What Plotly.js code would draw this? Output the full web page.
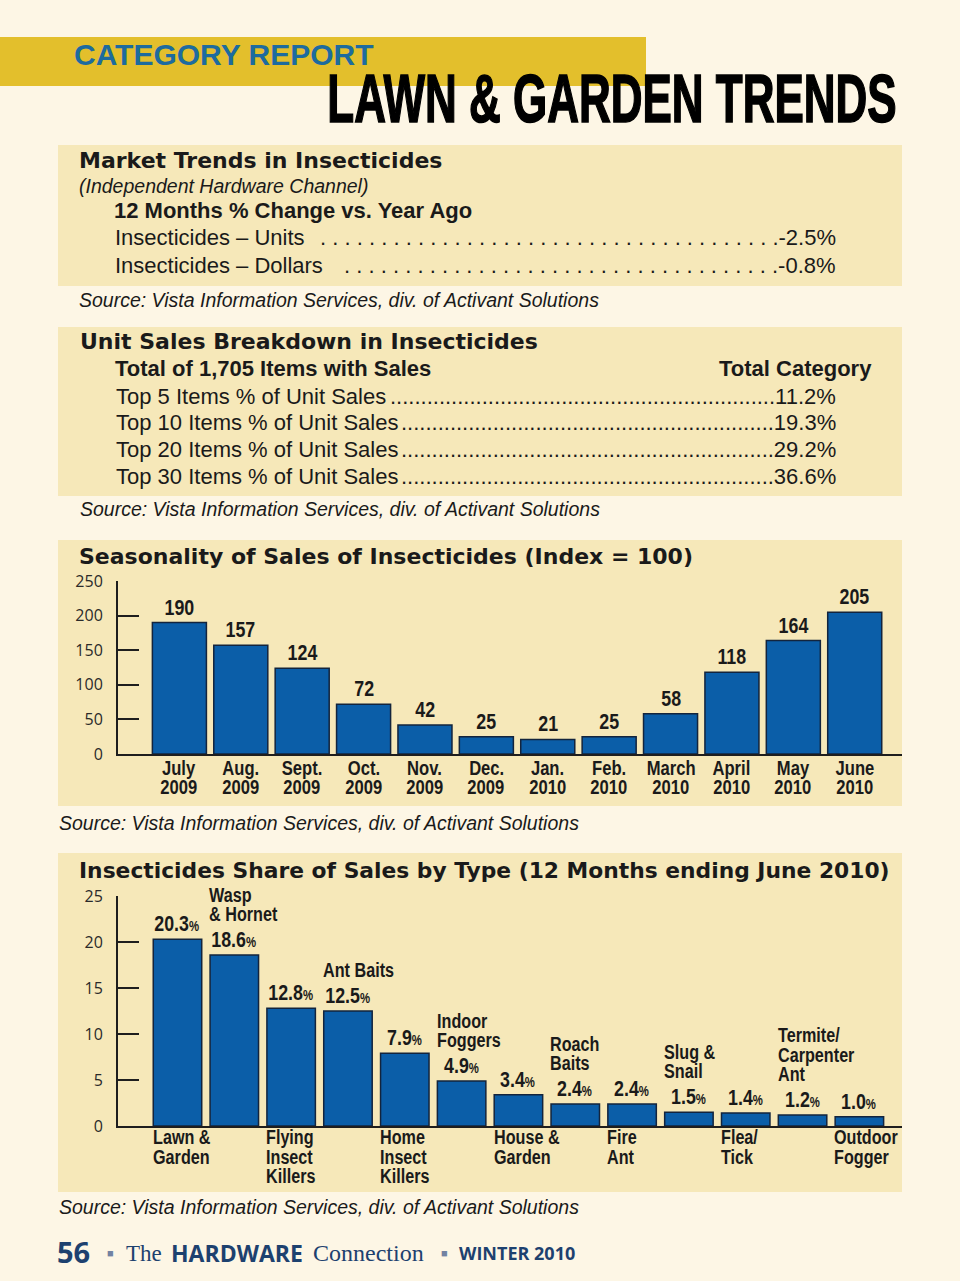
<!DOCTYPE html>
<html><head><meta charset="utf-8">
<script src="https://cdn.plot.ly/plotly-3.0.1.min.js"></script>
<style>
html,body{margin:0;padding:0;background:#fdf6e5;}
#chart{width:960px;height:1281px;}
</style></head><body><div id="chart"></div>
<script>
// ---------- DATA ----------
const seasonMonths = ['July','Aug.','Sept.','Oct.','Nov.','Dec.','Jan.','Feb.','March','April','May','June'];
const seasonYears  = ['2009','2009','2009','2009','2009','2009','2010','2010','2010','2010','2010','2010'];
const seasonIndex  = [190,157,124,72,42,25,21,25,58,118,164,205];
const seasonTicks  = [0,50,100,150,200,250];

const shareTypes = ['Lawn & Garden','Wasp & Hornet','Flying Insect Killers','Ant Baits','Home Insect Killers','Indoor Foggers','House & Garden','Roach Baits','Fire Ant','Slug & Snail','Flea/Tick','Termite/Carpenter Ant','Outdoor Fogger'];
const shareLabelLines = [['Lawn &','Garden'],['Wasp','& Hornet'],['Flying','Insect','Killers'],['Ant Baits'],['Home','Insect','Killers'],['Indoor','Foggers'],['House &','Garden'],['Roach','Baits'],['Fire','Ant'],['Slug &','Snail'],['Flea/','Tick'],['Termite/','Carpenter','Ant'],['Outdoor','Fogger']];
const shareLabelAbove = [false,true,false,true,false,true,false,true,false,true,false,true,false];
const sharePct = [20.3,18.6,12.8,12.5,7.9,4.9,3.4,2.4,2.4,1.5,1.4,1.2,1.0];
const shareTicks = [0,5,10,15,20,25];

const marketRows   = ['Insecticides – Units','Insecticides – Dollars'];
const marketValues = ['-2.5%','-0.8%'];
const breakdownRows   = ['Top 5 Items % of Unit Sales','Top 10 Items % of Unit Sales','Top 20 Items % of Unit Sales','Top 30 Items % of Unit Sales'];
const breakdownValues = ['11.2%','19.3%','29.2%','36.6%'];

const sourceText = 'Source: Vista Information Services, div. of Activant Solutions';

// ---------- STYLE ----------
const W = 960, H = 1281;
const px = x => x / W;
const py = y => 1 - y / H;
const PAGE = '#fdf6e5', PANEL = '#f6e8b9', BANNER = '#e3bf2c';
const BAR = '#0b5ea8', EDGE = '#13243d', INK = '#1a1a1a', AX = '#1e1e1e';
const HEAD = 'DejaVu Sans, sans-serif';
const SANS = 'Liberation Sans, Arial, sans-serif';
const TICKF = 'Open Sans, sans-serif';
const SERIF = 'Liberation Serif, Times New Roman, serif';
const NAVY = '#1d416f';
const NARROW_X = 0.81;

// text measuring for dot leaders
const ctx = document.createElement('canvas').getContext('2d');
function tw(text, size) { ctx.font = size + 'px "Liberation Sans", Arial, sans-serif'; return ctx.measureText(text).width; }

const ann = [];
const cssRules = [];
function squeeze(idx, origin, tf) {
  cssRules.push('.annotation[data-index="' + idx + '"] text{transform-box:fill-box;transform-origin:' + origin +
    ';transform:' + tf + ';}');
}
function t(text, x, y, font, extra) {
  ann.push(Object.assign({
    text: text, xref: 'paper', yref: 'paper', x: px(x), y: py(y),
    xanchor: 'left', yanchor: 'middle', showarrow: false,
    borderpad: 0, borderwidth: 0,
    font: Object.assign({family: SANS, size: 22, color: INK}, font)
  }, extra || {}));
  return ann.length - 1;
}

// header
t('CATEGORY REPORT', 74, 54, {family: SANS, size: 30, weight: 'bold', color: '#1d6b9e'});
const ti = t('LAWN &amp; GARDEN TRENDS', 612, 98, {family: SANS, size: 55, weight: 'bold', color: '#000'}, {xanchor: 'center'});
cssRules.push('.annotation[data-index="' + ti + '"] text{transform-box:fill-box;transform-origin:50% 50%;transform:scale(0.80,1.26);stroke:#000;stroke-width:1.3px;}');

// panel 1
t('Market Trends in Insecticides', 79, 160, {family: HEAD, size: 22, weight: 'bold'});
t('(Independent Hardware Channel)', 79, 186, {size: 19.5, style: 'italic'});
t('12 Months % Change vs. Year Ago', 114, 211, {size: 22, weight: 'bold'});
marketRows.forEach((r, i) => {
  const y = 238 + i * 27;
  const start = 115 + tw(r, 22) + 4;
  const n = Math.floor((836 - start - tw(marketValues[i], 22)) / tw(' .', 22));
  t(r, 115, y, {size: 22});
  t(' .'.repeat(n) + marketValues[i], 836, y, {size: 22}, {xanchor: 'right'});
});
t(sourceText, 79, 300, {size: 19.5, style: 'italic'});

// panel 2
t('Unit Sales Breakdown in Insecticides', 80, 341, {family: HEAD, size: 22, weight: 'bold'});
t('Total of 1,705 Items with Sales', 115, 368, {size: 22, weight: 'bold'});
t('Total Category', 872, 368, {size: 22, weight: 'bold'}, {xanchor: 'right'});
breakdownRows.forEach((r, i) => {
  const y = 396 + i * 27;
  const start = 116 + tw(r, 22) + 1;
  const n = Math.floor((836 - start - tw(breakdownValues[i], 22)) / tw('.', 22));
  t(r, 116, y, {size: 22});
  t('.'.repeat(n) + breakdownValues[i], 836, y, {size: 22}, {xanchor: 'right'});
});
t(sourceText, 80, 509, {size: 19.5, style: 'italic'});

// panel 3 / 4 titles and sources
t('Seasonality of Sales of Insecticides (Index = 100)', 79, 556, {family: HEAD, size: 22, weight: 'bold'});
t(sourceText, 59, 823, {size: 19.5, style: 'italic'});
t('Insecticides Share of Sales by Type (12 Months ending June 2010)', 79, 870, {family: HEAD, size: 21.8, weight: 'bold'});
t(sourceText, 59, 1207, {size: 19.5, style: 'italic'});

// footer
t('56', 57, 1251, {family: TICKF, size: 29, weight: 'bold', color: NAVY});
t('■', 110, 1253, {family: SANS, size: 11, color: '#7282a2'}, {xanchor: 'center'});
t('The', 126, 1253, {family: SERIF, size: 23, color: NAVY});
t('HARDWARE', 171, 1253, {family: TICKF, size: 23, weight: 'bold', color: NAVY});
t('Connection', 313, 1253, {family: SERIF, size: 24, color: NAVY});
t('■', 444, 1253, {family: SANS, size: 11, color: '#7282a2'}, {xanchor: 'center'});
t('WINTER 2010', 459, 1253, {family: TICKF, size: 18, weight: 'bold', color: NAVY});

// chart 3: value labels and category labels (condensed bold)
seasonIndex.forEach((v, i) => {
  ann.push({text: String(v), xref: 'x', yref: 'y', x: i, y: v, yshift: 2,
    xanchor: 'center', yanchor: 'bottom', showarrow: false, borderpad: 0,
    font: {family: SANS, size: 22, weight: 'bold', color: INK}});
  squeeze(ann.length - 1, '50% 50%', 'scaleX(' + NARROW_X + ')');
});
seasonMonths.forEach((m, i) => {
  [m, seasonYears[i]].forEach((line, k) => {
    ann.push({text: line, xref: 'x', yref: 'y', x: i, y: 0, yshift: -(13 + k * 19.5),
      xanchor: 'center', yanchor: 'middle', showarrow: false, borderpad: 0,
      font: {family: SANS, size: 20.5, weight: 'bold', color: INK}});
    squeeze(ann.length - 1, '50% 50%', 'scaleX(' + NARROW_X + ')');
  });
});

// chart 4: value labels and category labels
const W4 = 0.853;
sharePct.forEach((v, i) => {
  ann.push({text: v.toFixed(1) + '<span style="font-size:14px">%</span>', xref: 'x2', yref: 'y2', x: i, y: v, yshift: 2,
    xanchor: 'center', yanchor: 'bottom', showarrow: false, borderpad: 0,
    font: {family: SANS, size: 22, weight: 'bold', color: INK}});
  squeeze(ann.length - 1, '50% 50%', 'scaleX(' + NARROW_X + ')');
});
shareLabelLines.forEach((lines, i) => {
  const n = lines.length;
  lines.forEach((line, k) => {
    let y, ys;
    if (shareLabelAbove[i]) { y = sharePct[i]; ys = 41 + (n - 1 - k) * 19.3; }
    else { y = 0; ys = -(11 + k * 19.5); }
    ann.push({text: line, xref: 'x2', yref: 'y2', x: i - W4 / 2 - 0.03, y: y, yshift: ys,
      xanchor: 'left', yanchor: 'middle', showarrow: false, borderpad: 0,
      font: {family: SANS, size: 19.5, weight: 'bold', color: INK}});
    squeeze(ann.length - 1, '0% 50%', 'scaleX(0.83)');
  });
});

const st = document.createElement('style');
st.textContent = cssRules.join('\n');
document.head.appendChild(st);

// ---------- SHAPES ----------
const rect = (x0, y0, x1, y1, c) => ({type: 'rect', xref: 'paper', yref: 'paper', x0: px(x0), x1: px(x1), y0: py(y1), y1: py(y0), fillcolor: c, line: {width: 0}, layer: 'below'});
const shapes = [
  rect(0, 37, 646, 86, BANNER),
  rect(58, 145, 902, 286, PANEL),
  rect(58, 327, 902, 496, PANEL),
  rect(58, 540, 902, 806, PANEL),
  rect(58, 853, 902, 1192, PANEL)
];

// ---------- TRACES ----------
const traces = [
  {type: 'bar', x: seasonMonths.map((m, i) => m + ' ' + seasonYears[i]), y: seasonIndex, width: 0.88,
   marker: {color: BAR, line: {color: EDGE, width: 1.5}}, xaxis: 'x', yaxis: 'y', hoverinfo: 'skip'},
  {type: 'bar', x: shareTypes, y: sharePct, width: W4,
   marker: {color: BAR, line: {color: EDGE, width: 1.5}}, xaxis: 'x2', yaxis: 'y2', hoverinfo: 'skip'}
];

const yAx = (dom, rng, ticks) => ({domain: dom, range: rng, tickvals: ticks, ticks: 'inside', ticklen: 21, tickwidth: 2,
  tickcolor: AX, showline: true, linewidth: 2, linecolor: AX, showgrid: false, zeroline: false, fixedrange: true,
  ticklabelstandoff: 10, tickfont: {family: TICKF, size: 16, color: '#2a2a2a'}});
const xAx = (rng) => ({domain: [px(118), px(902)], range: rng, showline: true, linewidth: 2, linecolor: AX,
  showticklabels: false, ticks: '', showgrid: false, zeroline: false, fixedrange: true});

const layout = {
  width: W, height: H, margin: {l: 0, r: 0, t: 0, b: 0},
  paper_bgcolor: PAGE, plot_bgcolor: 'rgba(0,0,0,0)', showlegend: false,
  xaxis: xAx([-1.0, 11.77]),
  yaxis: yAx([py(754), py(581)], [0, 250], seasonTicks),
  xaxis2: Object.assign(xAx([-1.047, 12.75]), {anchor: 'y2'}),
  yaxis2: Object.assign(yAx([py(1126), py(896)], [0, 25], shareTicks), {anchor: 'x2'}),
  shapes: shapes, annotations: ann, hovermode: false
};

Plotly.newPlot('chart', traces, layout, {displayModeBar: false, staticPlot: true});
</script></body></html>
